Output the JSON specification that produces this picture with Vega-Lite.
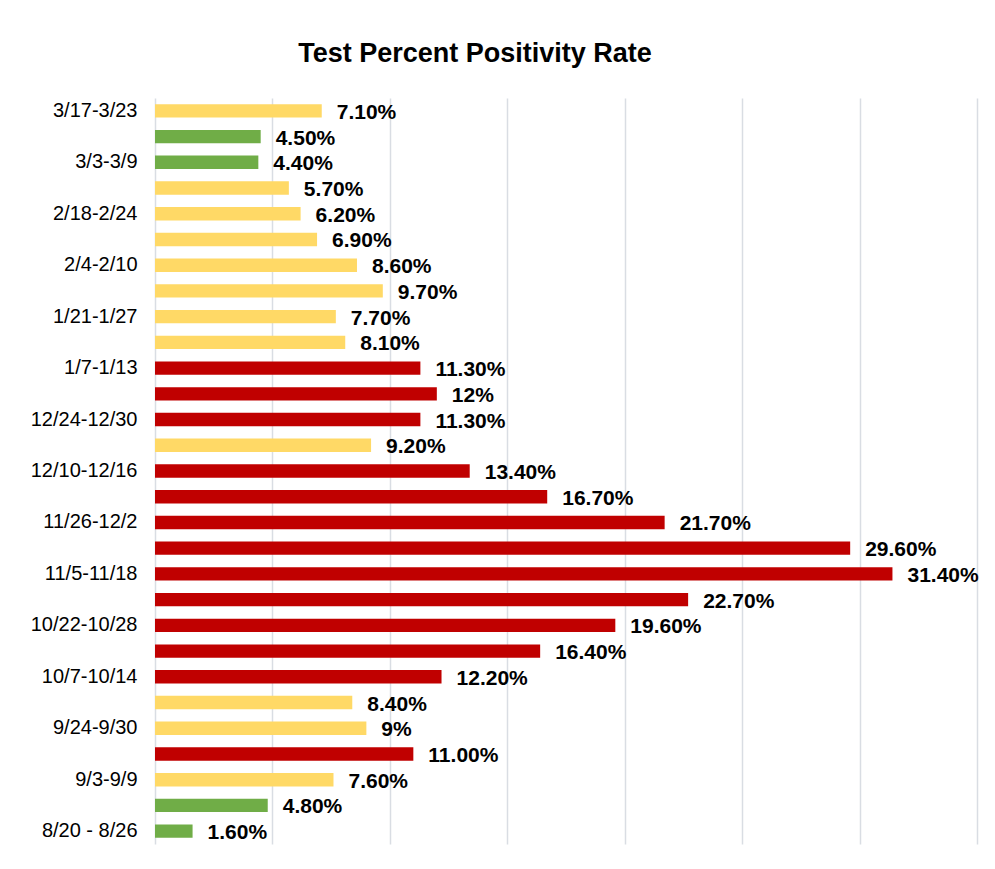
{
  "$schema": "https://vega.github.io/schema/vega-lite/v6.json",
  "width": 822,
  "height": 746,
  "autosize": {"type": "none"},
  "padding": {"left": 155, "top": 98, "right": 18, "bottom": 25},
  "background": "white",
  "title": {
    "text": "Test Percent Positivity Rate",
    "font": "Liberation Sans",
    "fontSize": 27,
    "fontWeight": "bold",
    "color": "#000000",
    "anchor": "middle",
    "dx": -91,
    "offset": 30
  },
  "config": {"view": {"stroke": null}},
  "data": {
    "values": [
      {"week": "3/17-3/23", "rate": 7.1, "label": "7.10%", "level": "mid"},
      {"week": "3/10-3/16", "rate": 4.5, "label": "4.50%", "level": "low"},
      {"week": "3/3-3/9", "rate": 4.4, "label": "4.40%", "level": "low"},
      {"week": "2/25-3/2", "rate": 5.7, "label": "5.70%", "level": "mid"},
      {"week": "2/18-2/24", "rate": 6.2, "label": "6.20%", "level": "mid"},
      {"week": "2/11-2/17", "rate": 6.9, "label": "6.90%", "level": "mid"},
      {"week": "2/4-2/10", "rate": 8.6, "label": "8.60%", "level": "mid"},
      {"week": "1/28-2/3", "rate": 9.7, "label": "9.70%", "level": "mid"},
      {"week": "1/21-1/27", "rate": 7.7, "label": "7.70%", "level": "mid"},
      {"week": "1/14-1/20", "rate": 8.1, "label": "8.10%", "level": "mid"},
      {"week": "1/7-1/13", "rate": 11.3, "label": "11.30%", "level": "high"},
      {"week": "12/31-1/6", "rate": 12, "label": "12%", "level": "high"},
      {"week": "12/24-12/30", "rate": 11.3, "label": "11.30%", "level": "high"},
      {"week": "12/17-12/23", "rate": 9.2, "label": "9.20%", "level": "mid"},
      {"week": "12/10-12/16", "rate": 13.4, "label": "13.40%", "level": "high"},
      {"week": "12/3-12/9", "rate": 16.7, "label": "16.70%", "level": "high"},
      {"week": "11/26-12/2", "rate": 21.7, "label": "21.70%", "level": "high"},
      {"week": "11/19-11/25", "rate": 29.6, "label": "29.60%", "level": "high"},
      {"week": "11/5-11/18", "rate": 31.4, "label": "31.40%", "level": "high"},
      {"week": "10/29-11/4", "rate": 22.7, "label": "22.70%", "level": "high"},
      {"week": "10/22-10/28", "rate": 19.6, "label": "19.60%", "level": "high"},
      {"week": "10/15-10/21", "rate": 16.4, "label": "16.40%", "level": "high"},
      {"week": "10/7-10/14", "rate": 12.2, "label": "12.20%", "level": "high"},
      {"week": "10/1-10/6", "rate": 8.4, "label": "8.40%", "level": "mid"},
      {"week": "9/24-9/30", "rate": 9, "label": "9%", "level": "mid"},
      {"week": "9/10-9/23", "rate": 11.0, "label": "11.00%", "level": "high"},
      {"week": "9/3-9/9", "rate": 7.6, "label": "7.60%", "level": "mid"},
      {"week": "8/27-9/2", "rate": 4.8, "label": "4.80%", "level": "low"},
      {"week": "8/20 - 8/26", "rate": 1.6, "label": "1.60%", "level": "low"}
    ]
  },
  "encoding": {
    "y": {
      "field": "week",
      "type": "nominal",
      "sort": null,
      "title": null,
      "scale": {"paddingInner": 0.48, "paddingOuter": 0.24},
      "axis": {
        "domain": false,
        "ticks": false,
        "labelFont": "Liberation Sans",
        "labelFontSize": 20,
        "labelColor": "#000000",
        "labelPadding": 18,
        "labelExpr": "indexof(['3/10-3/16','2/25-3/2','2/11-2/17','1/28-2/3','1/14-1/20','12/31-1/6','12/17-12/23','12/3-12/9','11/19-11/25','10/29-11/4','10/15-10/21','10/1-10/6','9/10-9/23','8/27-9/2'], datum.label) >= 0 ? '' : datum.label"
      }
    },
    "x": {
      "field": "rate",
      "type": "quantitative",
      "title": null,
      "scale": {"domain": [0, 35], "nice": false},
      "axis": {
        "values": [0, 5, 10, 15, 20, 25, 30, 35],
        "labels": false,
        "ticks": false,
        "domain": false,
        "grid": true,
        "gridColor": "#D9DDE3",
        "gridWidth": 1.5
      }
    }
  },
  "layer": [
    {
      "mark": {"type": "bar"},
      "encoding": {
        "color": {
          "field": "level",
          "type": "nominal",
          "scale": {"domain": ["low", "mid", "high"], "range": ["#70AD47", "#FFD966", "#C00000"]},
          "legend": null
        }
      }
    },
    {
      "mark": {
        "type": "text",
        "align": "left",
        "baseline": "middle",
        "dx": 15,
        "dy": 2,
        "font": "Liberation Sans",
        "fontSize": 21,
        "fontWeight": "bold",
        "color": "#000000"
      },
      "encoding": {"text": {"field": "label"}}
    }
  ]
}
